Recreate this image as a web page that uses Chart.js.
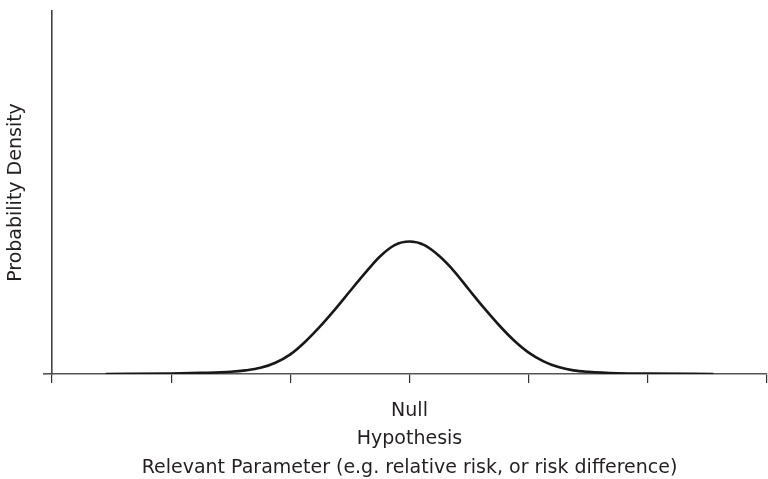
<!DOCTYPE html>
<html>
<head>
<meta charset="utf-8">
<script src="https://cdn.jsdelivr.net/npm/chart.js@4"></script>
<style>
html,body{margin:0;padding:0;background:#fff;}
#wrap{width:768px;height:479px;position:relative;}
</style>
</head>
<body>
<div id="wrap"><canvas id="c"></canvas></div>
<script>
const paramX = [0.45, 1.0, 1.25, 1.5, 1.625, 1.75, 1.875, 2.0, 2.125, 2.25, 2.375, 2.5, 2.625, 2.75, 2.875, 3.0, 3.125, 3.25, 3.375, 3.5, 3.625, 3.75, 3.875, 4.0, 4.125, 4.25, 4.375, 4.5, 4.75, 5.0, 5.55];
const density = [0.0, 0.0014, 0.003, 0.006, 0.010, 0.017, 0.031, 0.054, 0.089, 0.131, 0.178, 0.228, 0.277, 0.323, 0.355, 0.365, 0.355, 0.325, 0.283, 0.232, 0.182, 0.135, 0.093, 0.059, 0.035, 0.019, 0.010, 0.006, 0.002, 0.001, 0.0];
const tickValues = [0, 1, 2, 3, 4, 5, 6];
const tickLabels = ['', '', '', ['Null', 'Hypothesis'], '', '', ''];
const xTitle = 'Relevant Parameter (e.g. relative risk, or risk difference)';
const yTitle = 'Probability Density';

const points = paramX.map((x, i) => ({x: x, y: density[i]}));
const FONT = 'DejaVu Sans, Arial, Helvetica, sans-serif';
const TXT = '#231f20';

new Chart(document.getElementById('c'), {
  type: 'line',
  data: {
    datasets: [{
      data: points,
      borderColor: '#1a1718',
      borderWidth: 2.6,
      pointRadius: 0,
      fill: false,
      cubicInterpolationMode: 'monotone'
    }]
  },
  options: {
    responsive: true,
    maintainAspectRatio: false,
    animation: false,
    layout: {padding: {left: 0, right: 1, top: 11, bottom: 0}},
    plugins: {legend: {display: false}, tooltip: {enabled: false}},
    scales: {
      x: {
        type: 'linear',
        min: 0, max: 6,
        afterBuildTicks: s => { s.ticks = tickValues.map(v => ({value: v})); },
        afterFit: s => { s.height = 105; s.paddingLeft = 0; s.paddingRight = 0; },
        ticks: {
          autoSkip: false,
          maxRotation: 0,
          padding: 14,
          color: TXT,
          font: {family: FONT, size: 19, lineHeight: 1.47},
          callback: (v, i) => tickLabels[i]
        },
        grid: {drawOnChartArea: false, drawTicks: true, tickLength: 9, color: '#333', lineWidth: 1.2},
        border: {display: true, color: '#555', width: 1.6},
        title: {display: true, text: xTitle, color: TXT, font: {family: FONT, size: 19}, padding: {top: 6, bottom: 0}}
      },
      y: {
        min: 0, max: 1,
        afterBuildTicks: s => { s.ticks = [{value: 0}]; },
        afterFit: s => { s.width = 52; },
        ticks: {display: true, callback: () => '', padding: 0},
        grid: {drawOnChartArea: false, drawTicks: true, tickLength: 9, color: '#555', lineWidth: 1.6},
        border: {display: true, color: '#444', width: 1.6},
        title: {display: true, text: yTitle, color: TXT, font: {family: FONT, size: 19}, padding: {top: 5, bottom: 0}}
      }
    }
  }
});
</script>
</body>
</html>
